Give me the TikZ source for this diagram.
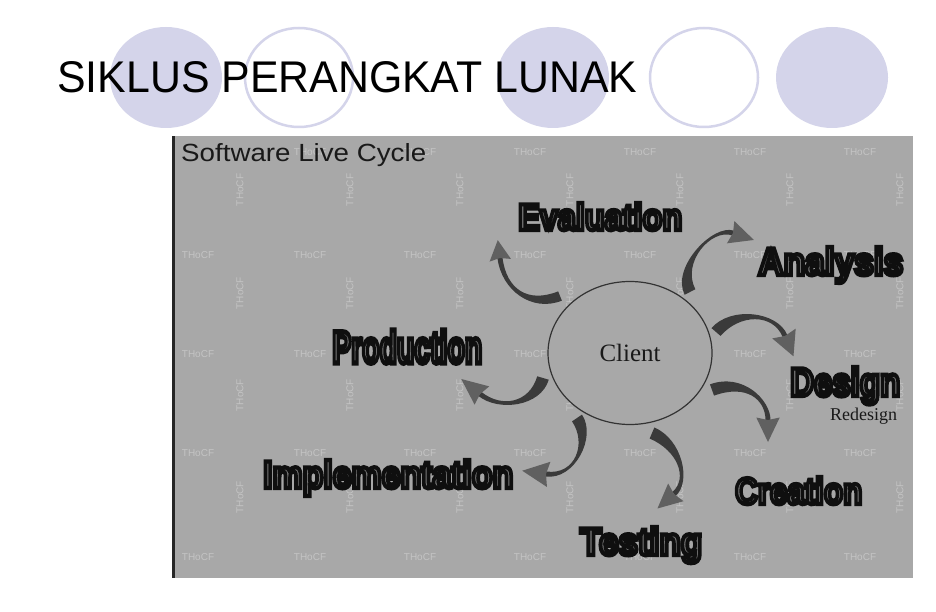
\documentclass[tikz,border=0pt]{standalone}
\usepackage{fontspec}
\usepackage{graphicx}
\setmainfont{Liberation Sans}
\newfontfamily\serifrm{Liberation Serif}
\usetikzlibrary{calc,shapes.geometric}

\definecolor{lav}{RGB}{212,212,234}
\definecolor{panel}{RGB}{168,168,168}
\definecolor{wm}{RGB}{196,196,196}
\definecolor{arrdark}{RGB}{58,58,58}
\definecolor{arrhead}{RGB}{96,96,96}
\definecolor{labfill}{RGB}{122,122,122}

\newcommand{\outlinetext}[1]{\special{pdf:literal direct 2 Tr 1.1 w 0.06 0.06 0.06 RG}#1\special{pdf:literal direct 0 Tr}}

% #1 name, #2 tail, #3 c1, #4 c2, #5 head base, #6 tail half width, #7 head-end half width, #8 head length, #9 head half width
\newcommand{\cyclearrow}[9]{%
  \coordinate (#1-p0) at #2; \coordinate (#1-c1) at #3;
  \coordinate (#1-c2) at #4; \coordinate (#1-p3) at #5;
  \coordinate (#1-o0) at ($(#1-p0)!#6!90:(#1-c1)$);
  \coordinate (#1-i0) at ($(#1-p0)!#6!-90:(#1-c1)$);
  \coordinate (#1-o3) at ($(#1-p3)!#7!-90:(#1-c2)$);
  \coordinate (#1-i3) at ($(#1-p3)!#7!90:(#1-c2)$);
  \coordinate (#1-o1) at ($(#1-c1)+(#1-o0)-(#1-p0)$);
  \coordinate (#1-i1) at ($(#1-c1)+(#1-i0)-(#1-p0)$);
  \coordinate (#1-o2) at ($(#1-c2)+(#1-o3)-(#1-p3)$);
  \coordinate (#1-i2) at ($(#1-c2)+(#1-i3)-(#1-p3)$);
  \coordinate (#1-tip) at ($(#1-p3)!#8!180:(#1-c2)$);
  \coordinate (#1-wo) at ($(#1-p3)!#9!-78:(#1-c2)$);
  \coordinate (#1-wi) at ($(#1-p3)!#9!78:(#1-c2)$);
  \fill[arrdark] (#1-o0) .. controls (#1-o1) and (#1-o2) .. (#1-o3)
     -- (#1-i3) .. controls (#1-i2) and (#1-i1) .. (#1-i0) -- cycle;
  \fill[arrhead] (#1-p3) -- (#1-wo) -- (#1-tip) -- (#1-wi) -- cycle;
}

\tikzset{
  wmh/.style={text=wm, font=\fontsize{10}{12}\selectfont, inner sep=0pt},
  wmv/.style={wmh, rotate=90},
  labelnode/.style={anchor=base west, inner sep=0pt, text=labfill, font=\bfseries},
  lavfill/.style={fill=lav, draw=none},
  lavring/.style={draw=lav, line width=2.5pt, fill=white},
}

\begin{document}
\begin{tikzpicture}[x=1pt,y=-1pt]
\useasboundingbox (0,0) rectangle (936,612);
\fill[white] (0,0) rectangle (936,612);

% decorative circles
\path[lavfill] (166,77.5) ellipse [x radius=56, y radius=50.5];
\path[lavring] (299,77.5) ellipse [x radius=54, y radius=49.5];
\path[lavfill] (553,77.5) ellipse [x radius=56, y radius=50.5];
\path[lavring] (704,77.5) ellipse [x radius=54, y radius=49.5];
\path[lavfill] (832,77.5) ellipse [x radius=56, y radius=50.5];

% title
\node[anchor=base west, inner sep=0pt] (title) at (57,93)
  {\resizebox{580pt}{31pt}{SIKLUS PERANGKAT LUNAK}};

% panel
\fill[panel] (172,136) rectangle (913,578);
\fill[black!85] (172,136) rectangle (175,578);

% watermarks
\foreach \x/\y in {310/152,420/152,530/152,640/152,750/152,860/152,
                   198/255,310/255,420/255,530/255,640/255,750/255,860/255,
                   198/354,310/354,530/354,750/354,860/354,
                   198/453,310/453,420/453,530/453,640/453,750/453,860/453,
                   198/557,310/557,420/557,530/557,640/557,750/557,860/557}
  \node[wmh] (wh-\x-\y) at (\x,\y) {THoCF};
\foreach \x in {240,350,460,570,680,790,900}
  \foreach \y in {190,293,395,497}
    \node[wmv] (wv-\x-\y) at (\x,\y) {THoCF};

\node[anchor=base west, inner sep=0pt, text=black!90] (heading) at (181,162)
  {\resizebox{245pt}{18pt}{Software Live Cycle}};

% client
\node[ellipse, draw=black!80, line width=1.2pt, fill=panel, minimum width=164pt,
      minimum height=143pt, inner sep=0pt, text=black!90] (client) at (630,353)
  {\resizebox{61pt}{!}{\serifrm Client}};

% arrows
\cyclearrow{aev}{(560,296)}{(530,308)}{(504,290)}{(500,258)}{5pt}{2.5pt}{18pt}{11pt}
\cyclearrow{aan}{(690,292)}{(676,265)}{(712,226)}{(733,233)}{6pt}{2.5pt}{22pt}{12pt}
\cyclearrow{ade}{(716,332)}{(735,310)}{(775,312)}{(785,336)}{6pt}{2.5pt}{22pt}{13pt}
\cyclearrow{acr}{(712,390)}{(745,378)}{(768,400)}{(768,420)}{6pt}{2.5pt}{22pt}{12pt}
\cyclearrow{ate}{(652,433)}{(680,445)}{(690,480)}{(674,494)}{6pt}{2.5pt}{22pt}{12pt}
\cyclearrow{aim}{(577,418)}{(592,440)}{(575,478)}{(546,474)}{6pt}{2.5pt}{24pt}{13pt}
\cyclearrow{apr}{(543,378)}{(535,405)}{(500,410)}{(480,394)}{6pt}{2.5pt}{24pt}{12pt}

% labels
\node[labelnode] (evaluation) at (518,230) {\resizebox{164pt}{27pt}{\outlinetext{Evaluation}}};
\node[labelnode] (analysis) at (758,275) {\resizebox{145pt}{28pt}{\outlinetext{Analysis}}};
\node[labelnode] (production) at (332,363) {\resizebox{150pt}{33pt}{\outlinetext{Production}}};
\node[labelnode] (implementation) at (263,488) {\resizebox{250pt}{28pt}{\outlinetext{Implementation}}};
\node[labelnode] (design) at (790,396) {\resizebox{110pt}{29pt}{\outlinetext{Design}}};
\node[labelnode] (creation) at (735,504) {\resizebox{127pt}{27pt}{\outlinetext{Creation}}};
\node[labelnode] (testing) at (580,555) {\resizebox{122pt}{28pt}{\outlinetext{Testing}}};
\node[anchor=base west, inner sep=0pt, text=black!90] (redesign) at (830,420)
  {\resizebox{67pt}{!}{\serifrm Redesign}};
\end{tikzpicture}
\end{document}
